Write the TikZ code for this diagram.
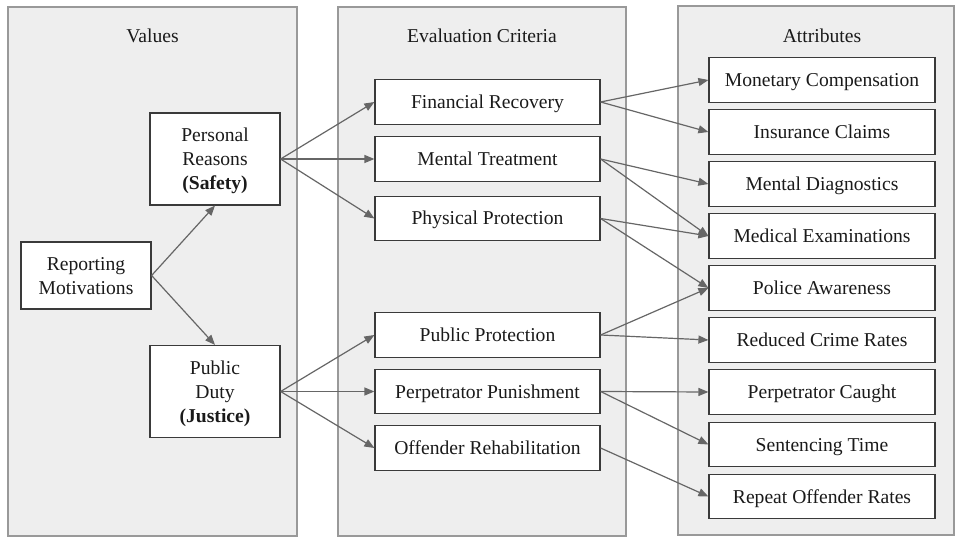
\documentclass[tikz,border=0pt]{standalone}
\usepackage{fontspec}
\setmainfont{Liberation Serif}
\usetikzlibrary{arrows.meta}
\definecolor{panelfill}{HTML}{EEEEEE}
\definecolor{panelline}{HTML}{999999}
\definecolor{boxline}{HTML}{3A3A3A}
\definecolor{edgecol}{HTML}{666666}
\definecolor{txt}{HTML}{1A1A1A}
% struts that keep the cap line centred in multi-line boxes
\newcommand{\capstrut}{\rule{0pt}{18pt}}
\newcommand{\depstrut}{\rule[-5pt]{0pt}{5pt}}
\begin{document}
\begin{tikzpicture}[x=1pt,y=-1pt,
  font=\fontsize{19.6}{24}\selectfont,
  panel/.style={draw=panelline,fill=panelfill,line width=1.3pt},
  title/.style={text=txt,inner sep=0pt,text height=18pt,text depth=5pt},
  basebox/.style={draw=boxline,fill=white,line width=1.2pt,text=txt,
    rectangle,inner sep=0pt},
  box/.style={basebox,text height=18pt,text depth=5pt},
  multibox/.style={basebox,align=center},
  valbox/.style={multibox,minimum width=130pt,minimum height=92pt},
  critbox/.style={box,minimum width=225pt,minimum height=44.5pt},
  attrbox/.style={box,minimum width=226pt,minimum height=44.5pt},
  link/.style={draw=edgecol,line width=1.2pt,
    -{Triangle[length=10pt,width=8pt]}}]
\useasboundingbox (0,0) rectangle (955,537);

% three column panels
\path[panel] (8,7) rectangle (297,536);
\path[panel] (338,7) rectangle (626,536);
\path[panel] (678,6) rectangle (954,535);
\node[title] (tval) at (152.5,36) {Values};
\node[title] (tcrit) at (482,36) {Evaluation Criteria};
\node[title] (tattr) at (822,36) {Attributes};

% values
\node[multibox,minimum width=130pt,minimum height=67pt] (rm) at (86,275.5)
  {\capstrut Reporting\\Motivations\depstrut};
\node[valbox] (pr) at (215,159)
  {\capstrut Personal\\Reasons\\\textbf{(Safety)}\depstrut};
\node[valbox] (pd) at (215,391.5)
  {\capstrut Public\\Duty\\\textbf{(Justice)}\depstrut};

% evaluation criteria
\node[critbox] (fr) at (487.5,102) {Financial Recovery};
\node[critbox] (mt) at (487.5,159) {Mental Treatment};
\node[critbox] (php) at (487.5,218.5) {Physical Protection};
\node[critbox] (pup) at (487.5,335) {Public Protection};
\node[critbox] (pep) at (487.5,391.5) {Perpetrator Punishment};
\node[critbox] (ofr) at (487.5,448) {Offender Rehabilitation};

% attributes
\node[attrbox] (mc) at (822,80) {Monetary Compensation};
\node[attrbox] (ic) at (822,132) {Insurance Claims};
\node[attrbox] (md) at (822,184) {Mental Diagnostics};
\node[attrbox] (me) at (822,236) {Medical Examinations};
\node[attrbox] (pa) at (822,288) {Police Awareness};
\node[attrbox] (rcr) at (822,340) {Reduced Crime Rates};
\node[attrbox] (pc) at (822,392) {Perpetrator Caught};
\node[attrbox] (st) at (822,444.5) {Sentencing Time};
\node[attrbox] (ror) at (822,496.5) {Repeat Offender Rates};

% connectors
\draw[link] (rm.east) -- (pr.south);
\draw[link] (rm.east) -- (pd.north);
\foreach \t in {fr,mt,php} \draw[link] (pr.east) -- (\t.west);
\foreach \t in {pup,pep,ofr} \draw[link] (pd.east) -- (\t.west);
\draw[link] (fr.east) -- (mc.west);
\draw[link] (fr.east) -- (ic.west);
\draw[link] (mt.east) -- (md.west);
\draw[link] (mt.east) -- (me.west);
\draw[link] (php.east) -- (me.west);
\draw[link] (php.east) -- (pa.west);
\draw[link] (pup.east) -- (pa.west);
\draw[link] (pup.east) -- (rcr.west);
\draw[link] (pep.east) -- (pc.west);
\draw[link] (pep.east) -- (st.west);
\draw[link] (ofr.east) -- (ror.west);
\end{tikzpicture}
\end{document}
